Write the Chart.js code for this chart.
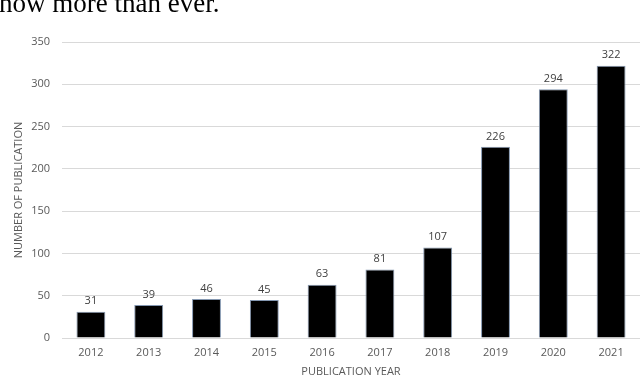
<!DOCTYPE html>
<html>
<head>
<meta charset="utf-8">
<script src="https://cdn.jsdelivr.net/npm/chart.js@4"></script>
<style>
  html,body{margin:0;padding:0;background:#fff;overflow:hidden;}
  #wrap{position:relative;width:640px;height:378px;}
  #lead{position:absolute;left:-1px;top:-12px;font-family:"Liberation Serif","Times New Roman",serif;font-size:27px;color:#000;white-space:nowrap;line-height:30px;}
  canvas{position:absolute;left:0;top:0;}
</style>
</head>
<body>
<div id="wrap">
  <canvas id="c" width="640" height="378"></canvas>
  <div id="lead">how more than ever.</div>
</div>
<script>
const years = ["2012","2013","2014","2015","2016","2017","2018","2019","2020","2021"];
const publications = [31,39,46,45,63,81,107,226,294,322];
const yTitle = "NUMBER OF PUBLICATION";
const xTitle = "PUBLICATION YEAR";

const valueLabels = {
  id: "valueLabels",
  afterDatasetsDraw(chart) {
    const ctx = chart.ctx;
    const meta = chart.getDatasetMeta(0);
    ctx.save();
    ctx.font = "11px 'Open Sans', 'Liberation Sans', sans-serif";
    ctx.fillStyle = "#404040";
    ctx.textAlign = "center";
    ctx.textBaseline = "bottom";
    meta.data.forEach((bar, i) => {
      ctx.fillText(String(publications[i]), bar.x, bar.y - 5);
    });
    ctx.restore();
  }
};

new Chart(document.getElementById("c"), {
  type: "bar",
  data: {
    labels: years,
    datasets: [{
      data: publications,
      backgroundColor: "#000000",
      borderColor: "#8497b0",
      borderWidth: 1,
      barPercentage: 0.5,
      categoryPercentage: 1.0
    }]
  },
  options: {
    responsive: false,
    animation: false,
    devicePixelRatio: 1,
    layout: { padding: { top: 42, right: 0, left: 0, bottom: 0 } },
    plugins: { legend: { display: false }, tooltip: { enabled: false } },
    scales: {
      x: {
        grid: { display: false, drawTicks: false },
        border: { color: "#d9d9d9" },
        ticks: { color: "#595959", font: { family: "'Open Sans', 'Liberation Sans', sans-serif", size: 11 }, padding: 8 },
        title: { display: true, text: xTitle, color: "#595959", font: { family: "'Open Sans', 'Liberation Sans', sans-serif", size: 11 }, padding: { top: 2, bottom: 0 } },
        afterFit(scale) { scale.height = 40; }
      },
      y: {
        min: 0, max: 350,
        ticks: { stepSize: 50, color: "#595959", font: { family: "'Open Sans', 'Liberation Sans', sans-serif", size: 11 }, padding: 12 },
        grid: { color: "#d9d9d9", drawTicks: false },
        border: { display: false },
        title: { display: true, text: yTitle, color: "#595959", font: { family: "'Open Sans', 'Liberation Sans', sans-serif", size: 11 }, padding: { top: 12, bottom: 0 } },
        afterFit(scale) { scale.width = 62; }
      }
    }
  },
  plugins: [valueLabels]
});
</script>
</body>
</html>
